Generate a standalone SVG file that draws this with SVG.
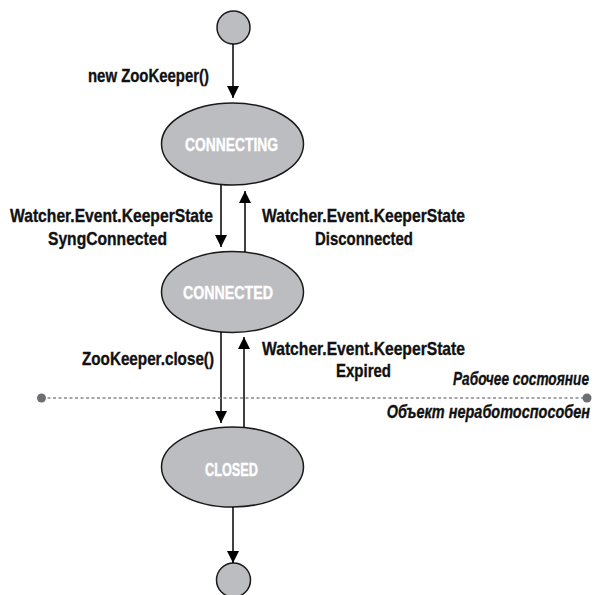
<svg xmlns="http://www.w3.org/2000/svg" width="596" height="595" viewBox="0 0 596 595">
  <defs>
    <marker id="arrow" markerUnits="userSpaceOnUse" markerWidth="12" markerHeight="12" refX="12" refY="6" orient="auto">
      <path d="M0,0 L12,6 L0,12 z" fill="#000"/>
    </marker>
    <style>
      .state { fill: #bcbdc0; stroke: #1a1a1a; stroke-width: 1.5; }
      .pseudo { fill: #bcbdc0; stroke: #1a1a1a; stroke-width: 1.5; }
      .st { font-family: "Liberation Sans Narrow", "Liberation Sans", Arial, sans-serif; font-weight: bold; font-size: 19px; fill: #ffffff; stroke: #ffffff; stroke-width: 0.4; }
      .lbl { font-family: "Liberation Sans Narrow", "Liberation Sans", Arial, sans-serif; font-weight: bold; font-size: 18.5px; fill: #111111; stroke: #111111; stroke-width: 0.35; }
      .it { font-family: "Liberation Sans Narrow", "Liberation Sans", Arial, sans-serif; font-weight: bold; font-style: italic; font-size: 18.5px; fill: #111111; stroke: #111111; stroke-width: 0.35; text-anchor: end; }
      .conn line { stroke: #000; stroke-width: 1.5; marker-end: url(#arrow); }
      .sep { stroke: #8a8b8d; stroke-width: 1.4; stroke-dasharray: 3 2.5; }
      .dot { fill: #6d6e71; }
    </style>
  </defs>
  <rect width="596" height="595" fill="#ffffff"/>

  <g id="start">
    <circle class="pseudo" cx="233.5" cy="27.5" r="16.5"/>
  </g>
  <g id="connecting">
    <ellipse class="state" cx="232.5" cy="144" rx="71" ry="41"/>
    <text class="st" x="185" y="150.5" textLength="93" lengthAdjust="spacingAndGlyphs">CONNECTING</text>
  </g>
  <g id="connected">
    <ellipse class="state" cx="232.5" cy="292" rx="71" ry="40.5"/>
    <text class="st" x="183" y="298.5" textLength="90" lengthAdjust="spacingAndGlyphs">CONNECTED</text>
  </g>
  <g id="closed">
    <ellipse class="state" cx="232.5" cy="467" rx="71" ry="40"/>
    <text class="st" x="205" y="476" textLength="53" lengthAdjust="spacingAndGlyphs">CLOSED</text>
  </g>
  <g id="end">
    <circle class="pseudo" cx="233.5" cy="580" r="17"/>
  </g>

  <g id="connectors" class="conn">
    <line x1="233" y1="44" x2="233" y2="98"/>
    <line x1="221" y1="185" x2="221" y2="247"/>
    <line x1="245" y1="252" x2="245" y2="191"/>
    <line x1="221" y1="332" x2="221" y2="423"/>
    <line x1="244" y1="427" x2="244" y2="337"/>
    <line x1="233" y1="507" x2="233" y2="563"/>
  </g>

  <g id="labels">
    <text class="lbl" x="88" y="82" textLength="121" lengthAdjust="spacingAndGlyphs">new ZooKeeper()</text>
    <text class="lbl" x="10" y="222" textLength="203" lengthAdjust="spacingAndGlyphs">Watcher.Event.KeeperState</text>
    <text class="lbl" x="48" y="245" textLength="119" lengthAdjust="spacingAndGlyphs">SyngConnected</text>
    <text class="lbl" x="262" y="222" textLength="203" lengthAdjust="spacingAndGlyphs">Watcher.Event.KeeperState</text>
    <text class="lbl" x="315" y="245" textLength="98" lengthAdjust="spacingAndGlyphs">Disconnected</text>
    <text class="lbl" x="82" y="365" textLength="132" lengthAdjust="spacingAndGlyphs">ZooKeeper.close()</text>
    <text class="lbl" x="262" y="355" textLength="203" lengthAdjust="spacingAndGlyphs">Watcher.Event.KeeperState</text>
    <text class="lbl" x="336" y="377" textLength="55" lengthAdjust="spacingAndGlyphs">Expired</text>
  </g>

  <g id="separator">
    <line class="sep" x1="42" y1="398" x2="587" y2="398"/>
    <circle class="dot" cx="41.5" cy="398" r="4.5"/>
    <circle class="dot" cx="587" cy="398" r="4.5"/>
    <text class="it" transform="translate(589 385) scale(0.85 1)" x="0" y="0" textLength="160" lengthAdjust="spacingAndGlyphs">Рабочее состояние</text>
    <text class="it" transform="translate(590 418) scale(0.8 1)" x="0" y="0" textLength="254" lengthAdjust="spacingAndGlyphs">Объект неработоспособен</text>
  </g>
</svg>
